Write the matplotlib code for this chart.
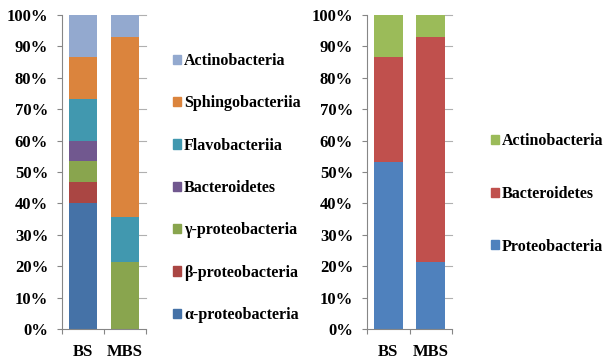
import matplotlib.pyplot as plt
import numpy as np
from matplotlib.patches import Patch

plt.rcParams['font.family'] = 'Liberation Serif'
plt.rcParams['font.weight'] = 'bold'

samples = ['BS', 'MBS']

# class level composition (%)
class_names = ['α-proteobacteria', 'β-proteobacteria', 'γ-proteobacteria',
               'Bacteroidetes', 'Flavobacteriia', 'Sphingobacteriia', 'Actinobacteria']
class_bs = [40.0, 6.7, 6.7, 6.6, 13.3, 13.4, 13.3]
class_mbs = [0.0, 0.0, 21.4, 0.0, 14.3, 57.2, 7.1]
class_colors = ['#4572a7', '#aa4643', '#89a54e', '#71588f', '#4198af', '#db843d', '#93a9cf']

# phylum level composition (%)
phylum_names = ['Proteobacteria', 'Bacteroidetes', 'Actinobacteria']
phylum_bs = [53.3, 33.4, 13.3]
phylum_mbs = [21.4, 71.5, 7.1]
phylum_colors = ['#4f81bd', '#c0504d', '#9bbb59']

W, H = 605, 362
fig = plt.figure(figsize=(W / 100, H / 100), dpi=100)

grey = '#868686'
fs = 12
lfs = 11.5


def stacked(ax, names, bs, mbs, colors):
    x = np.array([0.5, 1.5])
    bottom = np.zeros(2)
    for name, a, b, c in zip(names, bs, mbs, colors):
        vals = np.array([a, b])
        ax.bar(x, vals, 0.69, bottom=bottom, color=c, label=name, zorder=2)
        bottom += vals
    ax.set_xlim(0, 2)
    ax.set_ylim(0, 100)
    ax.set_yticks(np.arange(0, 101, 10))
    ax.set_yticklabels([f'{v}%' for v in range(0, 101, 10)], fontsize=fs, fontweight='bold')
    ax.set_xticks(x)
    ax.set_xticklabels(samples, fontsize=fs, fontweight='bold')
    ax.set_xticks([0, 1, 2], minor=True)
    ax.tick_params(axis='x', which='major', length=0, pad=11)
    ax.tick_params(axis='x', which='minor', length=3.5, color=grey, width=0.8)
    ax.tick_params(axis='y', length=3.5, color=grey, width=0.8, pad=6.5)
    for sp in ['top', 'right']:
        ax.spines[sp].set_visible(False)
    for sp in ['left', 'bottom']:
        ax.spines[sp].set_color(grey)
        ax.spines[sp].set_linewidth(0.8)
    # short marks at the right edge of the plot area
    for v in range(10, 101, 10):
        ax.plot([1.84, 2.0], [v, v], color='#b0b0b0', lw=0.8, zorder=1, clip_on=False)


ax1 = fig.add_axes([62 / W, 33 / H, 84 / W, 314 / H])
stacked(ax1, class_names, class_bs, class_mbs, class_colors)

ax2 = fig.add_axes([367 / W, 33 / H, 85 / W, 314 / H])
stacked(ax2, phylum_names, phylum_bs, phylum_mbs, phylum_colors)

h1 = [Patch(color=c) for c in class_colors][::-1]
fig.legend(h1, class_names[::-1], loc='center left', bbox_to_anchor=(165 / W, (H - 188) / H),
           frameon=False, borderpad=0, prop={'weight': 'bold', 'size': lfs},
           handlelength=0.5, handleheight=0.5, handletextpad=0.2, labelspacing=1.65)

h2 = [Patch(color=c) for c in phylum_colors][::-1]
fig.legend(h2, phylum_names[::-1], loc='center left', bbox_to_anchor=(483 / W, (H - 194) / H),
           frameon=False, borderpad=0, prop={'weight': 'bold', 'size': lfs},
           handlelength=0.5, handleheight=0.5, handletextpad=0.2, labelspacing=2.29)

fig.savefig('out.png', dpi=100)
